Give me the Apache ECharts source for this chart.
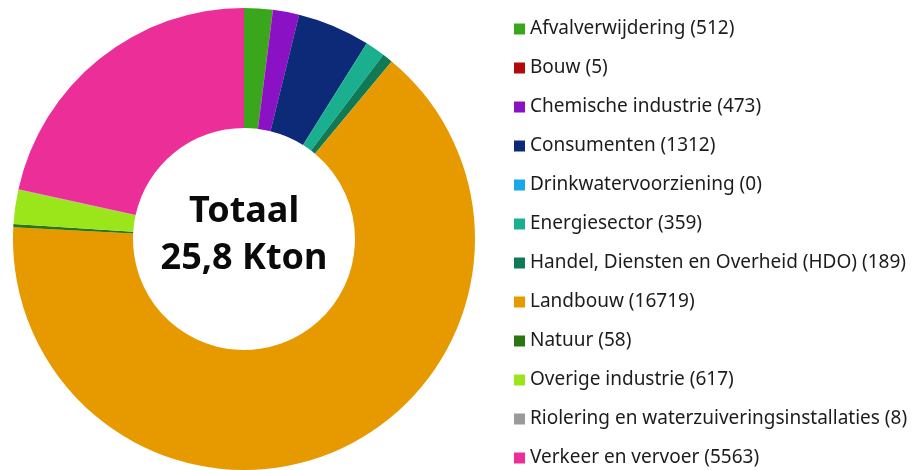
<!DOCTYPE html>
<html>
<head>
<meta charset="utf-8">
<script src="https://cdn.jsdelivr.net/npm/echarts@6/dist/echarts.min.js"></script>
<style>
  html, body { margin: 0; padding: 0; background: #fff; }
  #chart { width: 923px; height: 470px; }
</style>
</head>
<body>
<div id="chart"></div>
<script>
// sectoren en uitstoot (ton)
const sectors = [
  'Afvalverwijdering', 'Bouw', 'Chemische industrie', 'Consumenten',
  'Drinkwatervoorziening', 'Energiesector', 'Handel, Diensten en Overheid (HDO)',
  'Landbouw', 'Natuur', 'Overige industrie',
  'Riolering en waterzuiveringsinstallaties', 'Verkeer en vervoer'
]
const values = [512, 5, 473, 1312, 0, 359, 189, 16719, 58, 617, 8, 5563]
const colors = [
  '#3aa61c', '#b00a0a', '#8a12c4', '#0c2a78', '#1aa6e8', '#1ab08f',
  '#0f7a55', '#e69a00', '#2c7612', '#9ae61a', '#9a9a9a', '#ec2e98'
]
const totalLabel = ['Totaal', '25,8 Kton']

const chart = echarts.init(document.getElementById('chart'))

const option = {
  animation: false,
  color: colors,
  title: {
    text: totalLabel.join('\n'),
    left: 244,
    top: 188,
    padding: 0,
    textAlign: 'center',
    textStyle: {
      fontFamily: 'Noto Sans',
      fontSize: 36,
      fontWeight: 'bold',
      lineHeight: 47,
      color: '#0a0a0a'
    }
  },
  legend: {
    orient: 'vertical',
    left: 514,
    top: 19,
    height: 460,
    padding: 0,
    itemWidth: 11,
    itemHeight: 11,
    itemGap: 19,
    icon: 'rect',
    selectedMode: false,
    formatter: name => {
      const i = sectors.indexOf(name)
      return name + ' (' + values[i] + ')'
    },
    textStyle: {
      fontFamily: 'Noto Sans',
      fontSize: 19,
      lineHeight: 20,
      color: '#1c1c1c'
    }
  },
  series: [
    {
      type: 'pie',
      center: [244, 239],
      radius: [111, 231],
      startAngle: 90,
      clockwise: true,
      minAngle: 0,
      avoidLabelOverlap: false,
      stillShowZeroSum: true,
      label: { show: false },
      labelLine: { show: false },
      itemStyle: { borderWidth: 0 },
      emphasis: { disabled: true },
      data: sectors.map((name, i) => ({ name: name, value: values[i] }))
    }
  ]
}

chart.setOption(option)
</script>
</body>
</html>
